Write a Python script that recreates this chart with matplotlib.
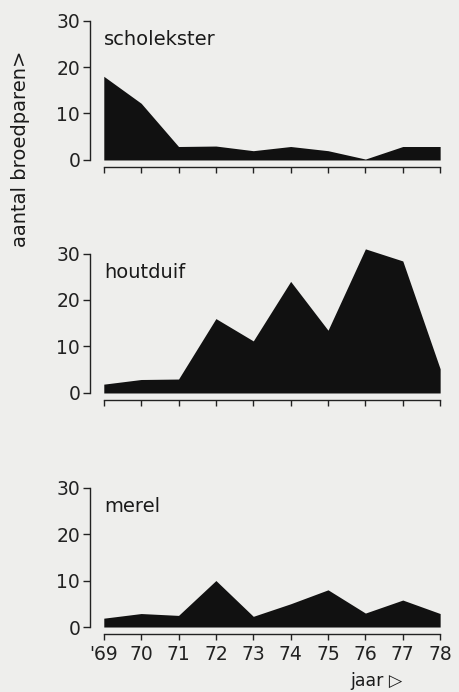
import numpy as np
import matplotlib.pyplot as plt

plt.rcParams['font.family'] = ['DejaVu Sans']

jaren = [69, 70, 71, 72, 73, 74, 75, 76, 77, 78]
jaar_labels = ["'69", "70", "71", "72", "73", "74", "75", "76", "77", "78"]

scholekster = [18, 12.2, 2.9, 3, 2, 2.9, 2, 0.2, 2.9, 2.9]
houtduif = [1.9, 2.9, 3, 16, 11.2, 24, 13.5, 31, 28.4, 5.2]
merel = [1.9, 2.9, 2.5, 10, 2.3, 5, 8, 3, 5.8, 2.9]

soorten = ["scholekster", "houtduif", "merel"]
reeksen = [scholekster, houtduif, merel]

bg = "#eeeeec"
fig = plt.figure(figsize=(4.59, 6.92), dpi=100, facecolor=bg)

# bottom of each panel (figure fraction), from the reference layout
bottoms = [0.7688, 0.4321, 0.0939]

for i, (naam, waarden) in enumerate(zip(soorten, reeksen)):
    ax = fig.add_axes([0.196, bottoms[i], 0.767, 0.215])
    ax.set_facecolor(bg)
    ax.fill_between(jaren, waarden, 0, color="#111111", linewidth=0)
    ax.set_xlim(68.63, 78.05)
    ax.set_ylim(0, 32)

    for s in ["top", "right"]:
        ax.spines[s].set_visible(False)
    ax.spines["left"].set_bounds(0, 30)
    ax.spines["bottom"].set_position(("outward", 5))
    ax.spines["bottom"].set_bounds(69, 78)
    for s in ["left", "bottom"]:
        ax.spines[s].set_linewidth(1.0)
        ax.spines[s].set_color("#222222")

    ax.set_yticks([0, 10, 20, 30])
    ax.tick_params(axis="y", direction="out", length=5, width=1, pad=2,
                   labelsize=13.5, colors="#222222")
    ax.set_xticks(jaren)
    ax.tick_params(axis="x", direction="out", length=4, width=1, pad=4,
                   labelsize=13.5, colors="#222222")
    if i < 2:
        ax.set_xticklabels([])
    else:
        ax.set_xticklabels(jaar_labels)

    ax.text(69.0, 26, naam, fontsize=14, va="center", ha="left",
            color="#1a1a1a")

fig.text(0.044, 1 - 149 / 692, "aantal broedparen>", rotation=90,
         fontsize=14, va="center", ha="center", color="#1a1a1a")
fig.text(0.878, 1 - 681 / 692, "jaar \u25b7", fontsize=12.5, va="center",
         ha="right", color="#1a1a1a")

plt.savefig("out.png", dpi=100, facecolor=bg)
